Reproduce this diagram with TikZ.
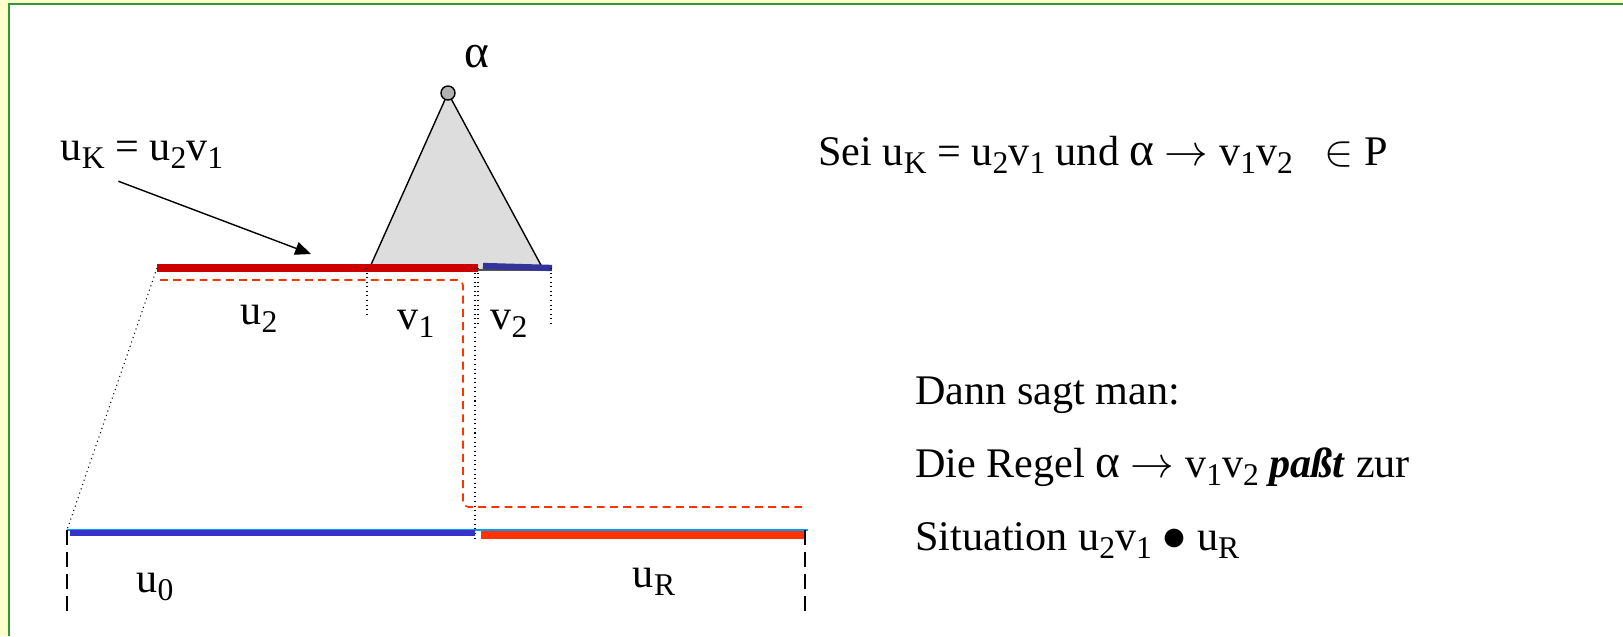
\documentclass[tikz,border=0pt]{standalone}
\usepackage{fontspec}
\setmainfont{Liberation Serif}
\usetikzlibrary{arrows.meta,calc}
\definecolor{frameyellow}{HTML}{FFFFCC}
\definecolor{framegreen}{HTML}{339933}
\definecolor{barred}{HTML}{CC0000}
\definecolor{barnavy}{HTML}{333399}
\definecolor{barblue}{HTML}{3333CC}
\definecolor{barorange}{HTML}{FF3300}
\definecolor{barsky}{HTML}{0099FF}
\definecolor{treegray}{HTML}{DDDDDD}
\definecolor{rootgray}{HTML}{B2B2B2}
\newcommand{\subidx}[1]{\raisebox{-0.2em}{\fontsize{18}{18}\selectfont #1}}
\newcommand{\galpha}{\scalebox{1.12}{α}}

\begin{document}
\begin{tikzpicture}[x=0.02cm,y=-0.02cm,
	txt/.style={font=\fontsize{24}{28}\selectfont, inner sep=0pt},
	root/.style={circle, draw, line width=0.8pt, fill=rootgray, minimum size=0.28cm, inner sep=0pt},
	redbar/.style={draw=barred, line width=4pt},
	guide/.style={dotted, line width=0.6pt},
	ptr/.style={-{Triangle[length=9pt,width=7.5pt]}, line width=0.8pt},
	trail/.style={draw=barorange, line width=0.9pt, dash pattern=on 4.5pt off 3pt, rounded corners=3pt},
	tick/.style={line width=0.7pt, dash pattern=on 8.5pt off 4pt}
	]
	\useasboundingbox (0,0) rectangle (1623,636);
	\fill[frameyellow] (0,0) rectangle (1623,636);
	\fill[white] (9,4) rectangle (1623,636);
	\draw[framegreen, line width=1.5pt] (9,636) -- (9,4) -- (1623,4);

	\coordinate (bl) at (370,267);
	\coordinate (br) at (542,267);
	\coordinate (u2l) at (157,268);
	\coordinate (v1r) at (478,268);
	\coordinate (u0l) at (67,530);
	\coordinate (urr) at (805,530);

	\filldraw[fill=treegray, line width=0.8pt] (bl) -- (448,93) -- (br) -- (542,270) -- (478,270);
	\node[root] (alpha) at (448,93) {};
	\node[txt] (alab) at (477,57) {\galpha};

	\draw[redbar] (u2l) -- (bl |- u2l);
	\draw[redbar] (bl |- u2l) -- (v1r);
	\draw[draw=barnavy, line width=3.6pt] (483,266) -- (552,268);

	\draw[guide] (u2l) -- (u0l);
	\draw[guide] (367,268) -- (367,318);
	\draw[guide] (v1r) -- (478,325);
	\draw[guide] (475,268) -- (475,538);
	\draw[guide] (551,268) -- (551,325);

	\draw[trail] (160,280) -| (463,507) -- (802,507);

	\draw[draw=barsky, line width=1.4pt] (u0l) -- (808,530);
	\draw[draw=barblue, line width=3.4pt] (70,533) -- (475,533);
	\draw[draw=barorange, line width=4.5pt] (481,535) -- (805,535);
	\draw[tick] (u0l) -- (67,614);
	\draw[tick] (urr) -- (805,616);

	\node[txt] (uk) at (142,155) {u\subidx{K} = u\subidx{2}v\subidx{1}};
	\coordinate (uktip) at (311,254);
	\draw[ptr] ($(uk.south west)+(58,12)$) -- (uktip);

	\node[txt] (u2) at (259,319) {u\subidx{2}};
	\node[txt] (v1) at (416,324) {v\subidx{1}};
	\node[txt] (v2) at (509,324) {v\subidx{2}};
	\node[txt] (u0) at (155,587) {u\subidx{0}};
	\node[txt] (ur) at (654,582) {u\subidx{R}};

	\node[txt, anchor=base west] (sei) at (818,165) {Sei u\subidx{K} = u\subidx{2}v\subidx{1} und \galpha\ $\rightarrow$ v\subidx{1}v\subidx{2}\ \ \ $\in$\ P};
	\node[txt, anchor=base west] (dann) at (915,404) {Dann sagt man:};
	\node[txt, anchor=base west] (regel) at (915,477) {Die Regel \galpha\ $\rightarrow$ v\subidx{1}v\subidx{2} \textbf{\textit{paßt}} zur};
	\node[txt, anchor=base west] (situ) at (915,550) {Situation u\subidx{2}v\subidx{1} \scalebox{1.1}{$\bullet$} u\subidx{R}};
\end{tikzpicture}
\end{document}
